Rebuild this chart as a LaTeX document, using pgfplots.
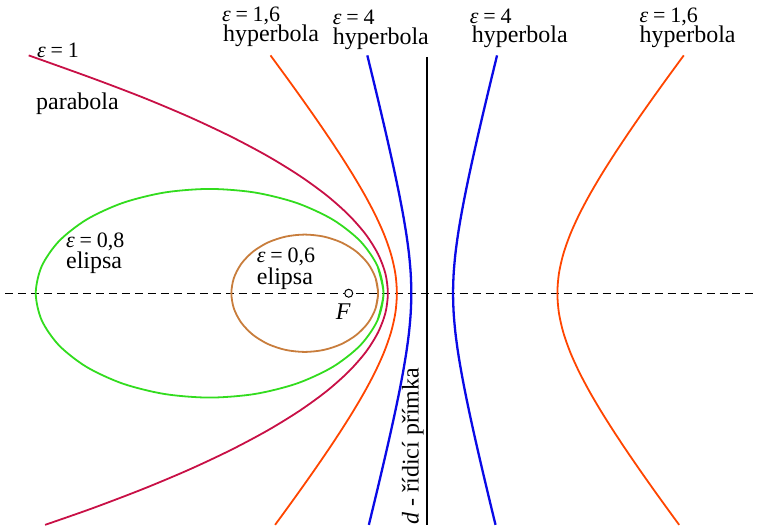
\documentclass[border=0pt]{standalone}
\usepackage{pgfplots}
\pgfplotsset{compat=1.18}
\usepackage{fontspec}
\setmainfont{Liberation Serif}
\definecolor{cpar}{RGB}{200,16,70}
\definecolor{chyp}{RGB}{255,69,0}
\definecolor{cblue}{RGB}{10,10,230}
\definecolor{cgreen}{RGB}{50,220,30}
\definecolor{cbrown}{RGB}{200,125,60}
\newcommand{\eq}[1]{\textit{ε}\hspace{0.22em}=\hspace{0.22em}#1}
\begin{document}
\begin{tikzpicture}
\begin{axis}[
  scale only axis, width=757pt, height=529pt,
  xmin=-4.457, xmax=5.211, ymin=-3.008, ymax=3.748,
  hide axis, clip=false,
]
\path (rel axis cs:0,0) rectangle (rel axis cs:1,1);
% axis (dashed)
\addplot[black, line width=1.1pt, dash pattern=on 8pt off 5pt] coordinates {(-4.393,0) (5.211,0)};
% directrix
\addplot[black, line width=1.8pt] coordinates {(1,3.02) (1,-2.96)};
% ellipse e=0.8
\addplot[cgreen, line width=1.8pt, smooth] coordinates {
(0.3686,-0.3451) (0.4444,0) (0.3686,0.3451) (0.1467,0.6667) (-0.2065,0.9428) (-0.6667,1.1547) (-1.2027,1.2879)
(-1.7778,1.3333) (-2.3529,1.2879) (-2.8889,1.1547) (-3.3491,0.9428) (-3.7023,0.6667) (-3.9242,0.3451)
(-4.0,0) (-3.9242,-0.3451) (-3.7023,-0.6667) (-3.3491,-0.9428) (-2.8889,-1.1547) (-2.3529,-1.2879)
(-1.7778,-1.3333) (-1.2027,-1.2879) (-0.6667,-1.1547) (-0.2065,-0.9428) (0.1467,-0.6667) (0.3686,-0.3451)
(0.4444,0) (0.3686,0.3451)};
% ellipse e=0.6
\addplot[cbrown, line width=1.8pt, smooth] coordinates {
(0.3431,-0.1941) (0.375,0) (0.3431,0.1941) (0.2494,0.375) (0.1004,0.5303) (-0.0937,0.6495) (-0.3199,0.7244)
(-0.5625,0.75) (-0.8051,0.7244) (-1.0313,0.6495) (-1.2254,0.5303) (-1.3744,0.375) (-1.4681,0.1941)
(-1.5,0) (-1.4681,-0.1941) (-1.3744,-0.375) (-1.2254,-0.5303) (-1.0313,-0.6495) (-0.8051,-0.7244)
(-0.5625,-0.75) (-0.3199,-0.7244) (-0.0937,-0.6495) (0.1004,-0.5303) (0.2494,-0.375) (0.3431,-0.1941)
(0.375,0) (0.3431,0.1941)};
% parabola e=1
\addplot[cpar, line width=1.8pt, smooth] coordinates {
(-4.090,3.04) (-3.281,2.75) (-2.625,2.5) (-2.031,2.25) (-1.5,2) (-1.031,1.75) (-0.625,1.5) (-0.281,1.25)
(0,1) (0.219,0.75) (0.375,0.5) (0.469,0.25) (0.5,0) (0.469,-0.25) (0.375,-0.5) (0.219,-0.75) (0,-1)
(-0.281,-1.25) (-0.625,-1.5) (-1.031,-1.75) (-1.5,-2) (-2.031,-2.25) (-2.625,-2.5) (-3.281,-2.75) (-3.881,-2.96)};
% hyperbola e=1.6 near
\addplot[chyp, line width=1.8pt, smooth] coordinates {
(-1.000,3.04) (-0.7879,2.75) (-0.6081,2.5) (-0.4319,2.25) (-0.2606,2) (-0.0954,1.75) (0.0617,1.5) (0.2080,1.25)
(0.3399,1) (0.4525,0.75) (0.5400,0.5) (0.5960,0.25) (0.6154,0) (0.5960,-0.25) (0.5400,-0.5) (0.4525,-0.75)
(0.3399,-1) (0.2080,-1.25) (0.0617,-1.5) (-0.0954,-1.75) (-0.2606,-2) (-0.4319,-2.25) (-0.6081,-2.5)
(-0.7879,-2.75) (-0.9413,-2.96)};
% hyperbola e=1.6 far
\addplot[chyp, line width=1.8pt, smooth] coordinates {
(4.282,3.04) (4.0699,2.75) (3.8901,2.5) (3.7140,2.25) (3.5426,2) (3.3774,1.75) (3.2203,1.5) (3.0740,1.25)
(2.9422,1) (2.8296,0.75) (2.7421,0.5) (2.6860,0.25) (2.6667,0) (2.6860,-0.25) (2.7421,-0.5) (2.8296,-0.75)
(2.9422,-1) (3.0740,-1.25) (3.2203,-1.5) (3.3774,-1.75) (3.5426,-2) (3.7140,-2.25) (3.8901,-2.5)
(4.0699,-2.75) (4.2233,-2.96)};
% hyperbola e=4 near
\addplot[cblue, line width=2.3pt, smooth] coordinates {
(0.2377,3.04) (0.3082,2.75) (0.3683,2.5) (0.4274,2.25) (0.4855,2) (0.5420,1.75) (0.5964,1.5) (0.6480,1.25)
(0.6955,1) (0.7371,0.75) (0.7704,0.5) (0.7923,0.25) (0.8,0) (0.7923,-0.25) (0.7704,-0.5) (0.7371,-0.75)
(0.6955,-1) (0.6480,-1.25) (0.5964,-1.5) (0.5420,-1.75) (0.4855,-2) (0.4274,-2.25) (0.3683,-2.5)
(0.3082,-2.75) (0.2572,-2.96)};
% hyperbola e=4 far
\addplot[cblue, line width=2.3pt, smooth] coordinates {
(1.8957,3.04) (1.8251,2.75) (1.7651,2.5) (1.7059,2.25) (1.6479,2) (1.5913,1.75) (1.5369,1.5) (1.4853,1.25)
(1.4379,1) (1.3962,0.75) (1.3629,0.5) (1.3410,0.25) (1.3333,0) (1.3410,-0.25) (1.3629,-0.5) (1.3962,-0.75)
(1.4379,-1) (1.4853,-1.25) (1.5369,-1.5) (1.5913,-1.75) (1.6479,-2) (1.7059,-2.25) (1.7651,-2.5)
(1.8251,-2.75) (1.8761,-2.96)};
% focus
\addplot[only marks, mark=*, mark size=4pt, mark options={fill=white, draw=black, line width=1pt}] coordinates {(0,0)};
% labels
\tikzset{lab/.style={anchor=base west, inner sep=0pt, font=\fontsize{24}{24}\selectfont},
         eqs/.style={anchor=base west, inner sep=0pt, font=\fontsize{22}{22}\selectfont}}
\node[eqs] at (axis cs:-3.985,3.008) {\eq{1}};
\node[lab] at (axis cs:-3.997,2.344) {parabola};
\node[eqs] at (axis cs:-1.622,3.467) {\eq{1,6}};
\node[lab] at (axis cs:-1.609,3.212) {hyperbola};
\node[eqs] at (axis cs:-0.204,3.429) {\eq{4}};
\node[lab] at (axis cs:-0.204,3.174) {hyperbola};
\node[eqs] at (axis cs:1.545,3.442) {\eq{4}};
\node[lab] at (axis cs:1.571,3.199) {hyperbola};
\node[eqs] at (axis cs:3.716,3.455) {\eq{1,6}};
\node[lab] at (axis cs:3.716,3.199) {hyperbola};
\node[eqs] at (axis cs:-3.614,0.581) {\eq{0,8}};
\node[lab] at (axis cs:-3.614,0.313) {elipsa};
\node[eqs] at (axis cs:-1.175,0.390) {\eq{0,6}};
\node[lab] at (axis cs:-1.175,0.109) {elipsa};
\node[lab] at (axis cs:-0.166,-0.338) {\textit{F}};
\node[lab, rotate=90] at (axis cs:0.894,-2.957) {\textit{d} - řídicí přímka};
\end{axis}
\end{tikzpicture}
\end{document}
